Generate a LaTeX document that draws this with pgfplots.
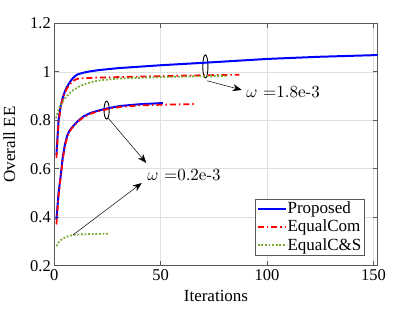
\documentclass[border=0pt]{standalone}
\usepackage{fontspec}
\setmainfont{Liberation Serif}
\newfontfamily\lmr{lmroman10-regular.otf}
\usepackage{pgfplots}
\pgfplotsset{compat=1.18}
\usetikzlibrary{arrows.meta}
\definecolor{mgreen}{rgb}{0.47,0.67,0.19}
\begin{document}
\begin{tikzpicture}
\begin{axis}[name=ax, at={(0,0)}, anchor=south west,
  scale only axis, width=323.4bp, height=242.4bp,
  xmin=0, xmax=152, ymin=0.2, ymax=1.2,
  xtick={0,50,100,150}, ytick={0.2,0.4,0.6,0.8,1,1.2},
  grid=major, major grid style={black!12, line width=0.5pt},
  axis line style={black!65, line width=0.6pt}, tick style={black!65, line width=0.6pt},
  tick label style={font=\fontsize{16.5bp}{19bp}\selectfont},
  label style={font=\fontsize{17bp}{20bp}\selectfont},
  xlabel style={yshift=-3bp},
  ylabel style={yshift=8bp},
  /pgf/number format/assume math mode=true,
  yticklabel style={/pgf/number format/fixed, /pgf/number format/precision=1},
  xlabel={Iterations}, ylabel={Overall EE},
  legend cell align=left,
  legend style={at={(1,0)}, anchor=south east, xshift=-13.7bp, yshift=10.7bp,
    font=\fontsize{17bp}{20bp}\selectfont, draw=black!65, line width=0.5pt,
    inner xsep=1.5pt, inner ysep=1pt, row sep=1pt,
    nodes={inner xsep=1pt, inner ysep=2pt}},
  legend image code/.code={\draw[#1] (0cm,0cm) -- (0.98cm,0cm);},
]
% annotation ellipses
\draw[black, line width=0.9pt] (axis cs:71,1.022) ellipse [x radius=2.6bp, y radius=11.5bp];
\draw[black, line width=0.9pt] (axis cs:24.6,0.842) ellipse [x radius=2.6bp, y radius=9bp];

\addplot[blue, line width=2pt] coordinates {
(1,0.657)(2,0.80)(3,0.86)(4,0.893)(5,0.92)(6,0.938)(7,0.953)(8,0.966)(9,0.976)(10,0.984)(11,0.989)(12,0.992)(14,0.997)(17,1.002)(21,1.007)(30,1.015)(40,1.021)(50,1.027)(60,1.032)(70,1.037)(87,1.046)(100,1.053)(125,1.062)(152,1.069)};
\addlegendentry{Proposed}
\addplot[red, line width=1.8pt, dash pattern=on 6bp off 3bp on 1.5bp off 3bp] coordinates {
(1,0.644)(2,0.79)(3,0.855)(4,0.89)(5,0.915)(6,0.932)(7,0.945)(8,0.955)(9,0.963)(10,0.968)(11,0.971)(13,0.973)(20,0.976)(40,0.980)(60,0.984)(87,0.988)};
\addlegendentry{EqualCom}
\addplot[mgreen, line width=1.8pt, dash pattern=on 1.8bp off 1.8bp] coordinates {
(0.8,0.808)(2,0.845)(3.5,0.87)(5,0.89)(7,0.91)(9,0.925)(12,0.941)(15,0.951)(18,0.959)(22,0.965)(30,0.972)(40,0.975)(50,0.978)(65,0.981)(81,0.983)};
\addlegendentry{EqualC\&S}

\addplot[blue, line width=2pt, forget plot] coordinates {
(1,0.39)(2,0.50)(3,0.57)(4,0.65)(5,0.70)(6,0.735)(7,0.755)(8,0.767)(9,0.777)(11,0.796)(13.6,0.815)(17,0.83)(21.5,0.842)(26,0.851)(31,0.859)(40,0.866)(51,0.871)};
\addplot[red, line width=1.8pt, dash pattern=on 6bp off 3bp on 1.5bp off 3bp, forget plot] coordinates {
(1,0.37)(2,0.49)(3,0.565)(4,0.64)(5,0.695)(6,0.728)(7,0.75)(8,0.764)(9,0.775)(11,0.794)(13.6,0.812)(17,0.827)(21.5,0.839)(26,0.848)(31,0.855)(40,0.861)(50,0.864)(67,0.867)};
\addplot[mgreen, line width=1.8pt, dash pattern=on 1.8bp off 1.8bp, forget plot] coordinates {
(1,0.281)(2,0.295)(3,0.305)(4.2,0.313)(6,0.32)(8.9,0.327)(12,0.329)(18,0.331)(26,0.332)};

% arrows and texts
\draw[-{Stealth[length=9bp,width=7bp]}, line width=0.5pt] (axis cs:71.8,0.963) -- (axis cs:88.1,0.925);
\node[anchor=west, inner sep=0pt, font=\lmr\fontsize{17bp}{20bp}\selectfont] at (axis cs:90.2,0.917) {$\omega$ =1.8e-3};
\draw[-{Stealth[length=9bp,width=7bp]}, line width=0.5pt] (axis cs:25.2,0.81) -- (axis cs:43.2,0.624);
\draw[-{Stealth[length=9bp,width=7bp]}, line width=0.5pt] (axis cs:8.8,0.327) -- (axis cs:41.1,0.541);
\node[anchor=west, inner sep=0pt, font=\lmr\fontsize{17bp}{20bp}\selectfont] at (axis cs:43.6,0.574) {$\omega$ =0.2e-3};
\end{axis}
\path (ax.south west) ++(-54.3bp,-47.3bp) rectangle ++(417bp,313bp);
\end{tikzpicture}
\end{document}
